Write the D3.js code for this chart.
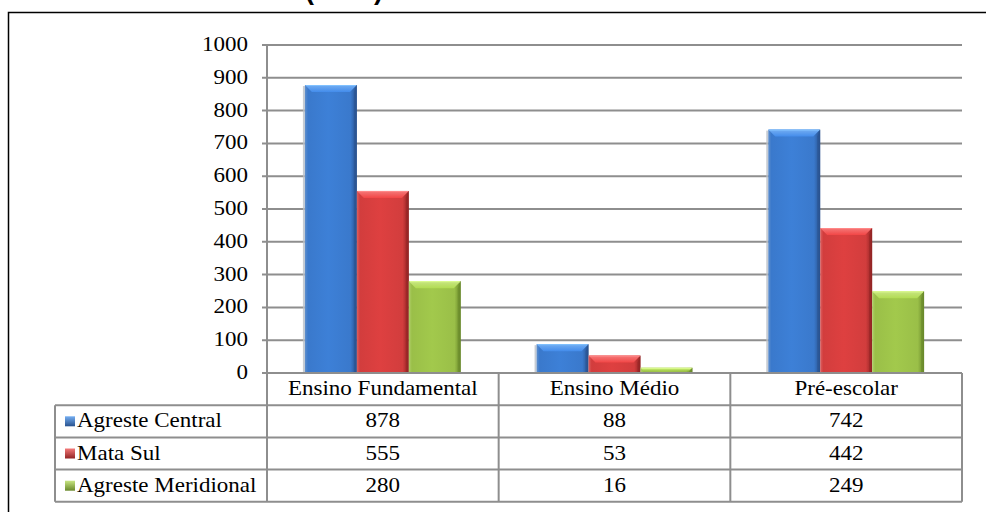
<!DOCTYPE html>
<html>
<head>
<meta charset="utf-8">
<script src="https://cdn.jsdelivr.net/npm/d3@7"></script>
<style>
  html, body { margin: 0; padding: 0; background: #fff; }
  svg { display: block; }
  .lbl { font-family: "Liberation Serif", "DejaVu Serif", serif; }
</style>
</head>
<body>
<svg id="chart" width="986" height="512"></svg>
<script>
// Data
const categories = ["Ensino Fundamental", "Ensino Médio", "Pré-escolar"];
const seriesNames = ["Agreste Central", "Mata Sul", "Agreste Meridional"];
const agresteCentral = [878, 88, 742];
const mataSul = [555, 53, 442];
const agresteMeridional = [280, 16, 249];
const yTicks = [0, 100, 200, 300, 400, 500, 600, 700, 800, 900, 1000];
const titleText = "(2010)";

const seriesValues = [agresteCentral, mataSul, agresteMeridional];
const palette = [
  { base: "#3a79cc", light: "#74aef2", dark: "#29528e", side: "#5f8fcc" },
  { base: "#d23d3d", light: "#f47a7a", dark: "#922424", side: "#dc6060" },
  { base: "#9abf48", light: "#c8e583", dark: "#68882a", side: "#b0cf6a" }
];

const svg = d3.select("#chart");
const SX = 1.15;            // horizontal stretch of the serif labels
const FS = 20;

function label(g, x, y, txt, anchor) {
  return g.append("text")
    .attr("class", "lbl")
    .attr("transform", `translate(${x},${y}) scale(${SX},1)`)
    .attr("text-anchor", anchor)
    .attr("font-size", FS)
    .attr("fill", "#000")
    .text(txt);
}

// Geometry
const plotLeft = 267, plotRight = 962;
const yZero = 373, yTop = 45;
const tableLeft = 55;
const rowH = 32.2;
const gridColor = "#8e8e8e";

const x = d3.scaleBand().domain(categories).range([plotLeft, plotRight]).padding(0);
const xSub = d3.scaleBand().domain(seriesNames).range([0, x.bandwidth()])
  .paddingInner(0).paddingOuter(0.73);
const y = d3.scaleLinear().domain([0, 1000]).range([yZero, yTop]);

// Outer frame
svg.append("rect")
  .attr("x", 8.5).attr("y", 12.5).attr("width", 1000).attr("height", 600)
  .attr("fill", "none").attr("stroke", "#000").attr("stroke-width", 1.5);

// Title (its upper part runs past the page top)
svg.append("text")
  .attr("x", 305).attr("y", -1.5)
  .attr("font-family", "Liberation Sans, Arial, sans-serif")
  .attr("font-weight", "bold").attr("font-size", 27)
  .attr("fill", "#000")
  .text(titleText);

// Gradients
const defs = svg.append("defs");
palette.forEach((c, i) => {
  const g = defs.append("linearGradient").attr("id", "body" + i)
    .attr("x1", 0).attr("x2", 1).attr("y1", 0).attr("y2", 0);
  g.append("stop").attr("offset", "0%").attr("stop-color", c.side);
  g.append("stop").attr("offset", "6%").attr("stop-color", c.base);
  g.append("stop").attr("offset", "45%").attr("stop-color", d3.color(c.base).brighter(0.15));
  g.append("stop").attr("offset", "88%").attr("stop-color", c.base);
  g.append("stop").attr("offset", "100%").attr("stop-color", c.dark);
  const t = defs.append("linearGradient").attr("id", "top" + i)
    .attr("x1", 0).attr("x2", 0).attr("y1", 0).attr("y2", 1);
  t.append("stop").attr("offset", "0%").attr("stop-color", c.light);
  t.append("stop").attr("offset", "100%").attr("stop-color", d3.color(c.base).brighter(0.4));
  const k = defs.append("linearGradient").attr("id", "key" + i)
    .attr("x1", 0).attr("x2", 0).attr("y1", 0).attr("y2", 1);
  k.append("stop").attr("offset", "0%").attr("stop-color", c.light);
  k.append("stop").attr("offset", "100%").attr("stop-color", c.dark);
});

// Gridlines
const grid = svg.append("g");
grid.selectAll("line").data(yTicks.filter(t => t > 0)).join("line")
  .attr("x1", plotLeft - 5).attr("x2", plotRight)
  .attr("y1", d => y(d)).attr("y2", d => y(d))
  .attr("stroke", gridColor).attr("stroke-width", 2);

// Y tick labels
const yl = svg.append("g");
yTicks.forEach(t => label(yl, 248, y(t) + 6, t, "end"));

// Bars
const bars = svg.append("g");
seriesValues.forEach((vals, si) => {
  vals.forEach((v, ci) => {
    const bx = x(categories[ci]) + xSub(seriesNames[si]);
    const bw = xSub.bandwidth();
    const by = y(v);
    const bh = yZero - by;
    const bev = Math.min(7, bh / 2);
    const g = bars.append("g");
    // soft left shadow
    g.append("rect").attr("x", bx - 2).attr("y", by + 1).attr("width", 2).attr("height", bh - 1)
      .attr("fill", "#b9bfc8").attr("opacity", si === 0 ? 0.8 : 0);
    g.append("rect").attr("x", bx).attr("y", by).attr("width", bw).attr("height", bh)
      .attr("fill", `url(#body${si})`);
    g.append("polygon")
      .attr("points", [[bx, by], [bx + bw, by], [bx + bw - bev, by + bev], [bx + bev, by + bev]].join(" "))
      .attr("fill", `url(#top${si})`);
    g.append("line").attr("x1", bx + 1).attr("x2", bx + bw - 1).attr("y1", by + 0.5).attr("y2", by + 0.5)
      .attr("stroke", d3.color(palette[si].light).brighter(0.3)).attr("stroke-width", 1);
    g.append("polygon")
      .attr("points", [[bx + bw, by], [bx + bw, yZero], [bx + bw - 3, yZero], [bx + bw - 3, by + bev]].join(" "))
      .attr("fill", palette[si].dark).attr("opacity", 0.55);
  });
});

// Axis baseline and vertical axis
svg.append("line").attr("x1", plotLeft - 5).attr("x2", plotRight)
  .attr("y1", yZero).attr("y2", yZero).attr("stroke", gridColor).attr("stroke-width", 2);
svg.append("line").attr("x1", plotLeft).attr("x2", plotLeft)
  .attr("y1", yTop).attr("y2", yZero + rowH * 4).attr("stroke", gridColor).attr("stroke-width", 2);

// Data table
const table = svg.append("g");
const tableBottom = yZero + rowH * 4;
[1, 2, 3, 4].forEach(r => {
  table.append("line").attr("x1", tableLeft).attr("x2", plotRight)
    .attr("y1", yZero + rowH * r).attr("y2", yZero + rowH * r)
    .attr("stroke", gridColor).attr("stroke-width", 2);
});
table.append("line").attr("x1", tableLeft).attr("x2", tableLeft)
  .attr("y1", yZero + rowH).attr("y2", tableBottom).attr("stroke", gridColor).attr("stroke-width", 2);
categories.forEach(c => {
  const xr = x(c) + x.bandwidth();
  table.append("line").attr("x1", xr).attr("x2", xr)
    .attr("y1", yZero).attr("y2", tableBottom).attr("stroke", gridColor).attr("stroke-width", 2);
  label(table, x(c) + x.bandwidth() / 2, yZero + rowH / 2 + 6, c, "middle");
});
seriesNames.forEach((s, si) => {
  const cy = yZero + rowH * (si + 1) + rowH / 2;
  table.append("rect").attr("x", 65).attr("y", cy - 5).attr("width", 10).attr("height", 10)
    .attr("fill", `url(#key${si})`);
  label(table, 77, cy + 6, s, "start");
  seriesValues[si].forEach((v, ci) => {
    label(table, x(categories[ci]) + x.bandwidth() / 2, cy + 6, v, "middle");
  });
});
</script>
</body>
</html>
